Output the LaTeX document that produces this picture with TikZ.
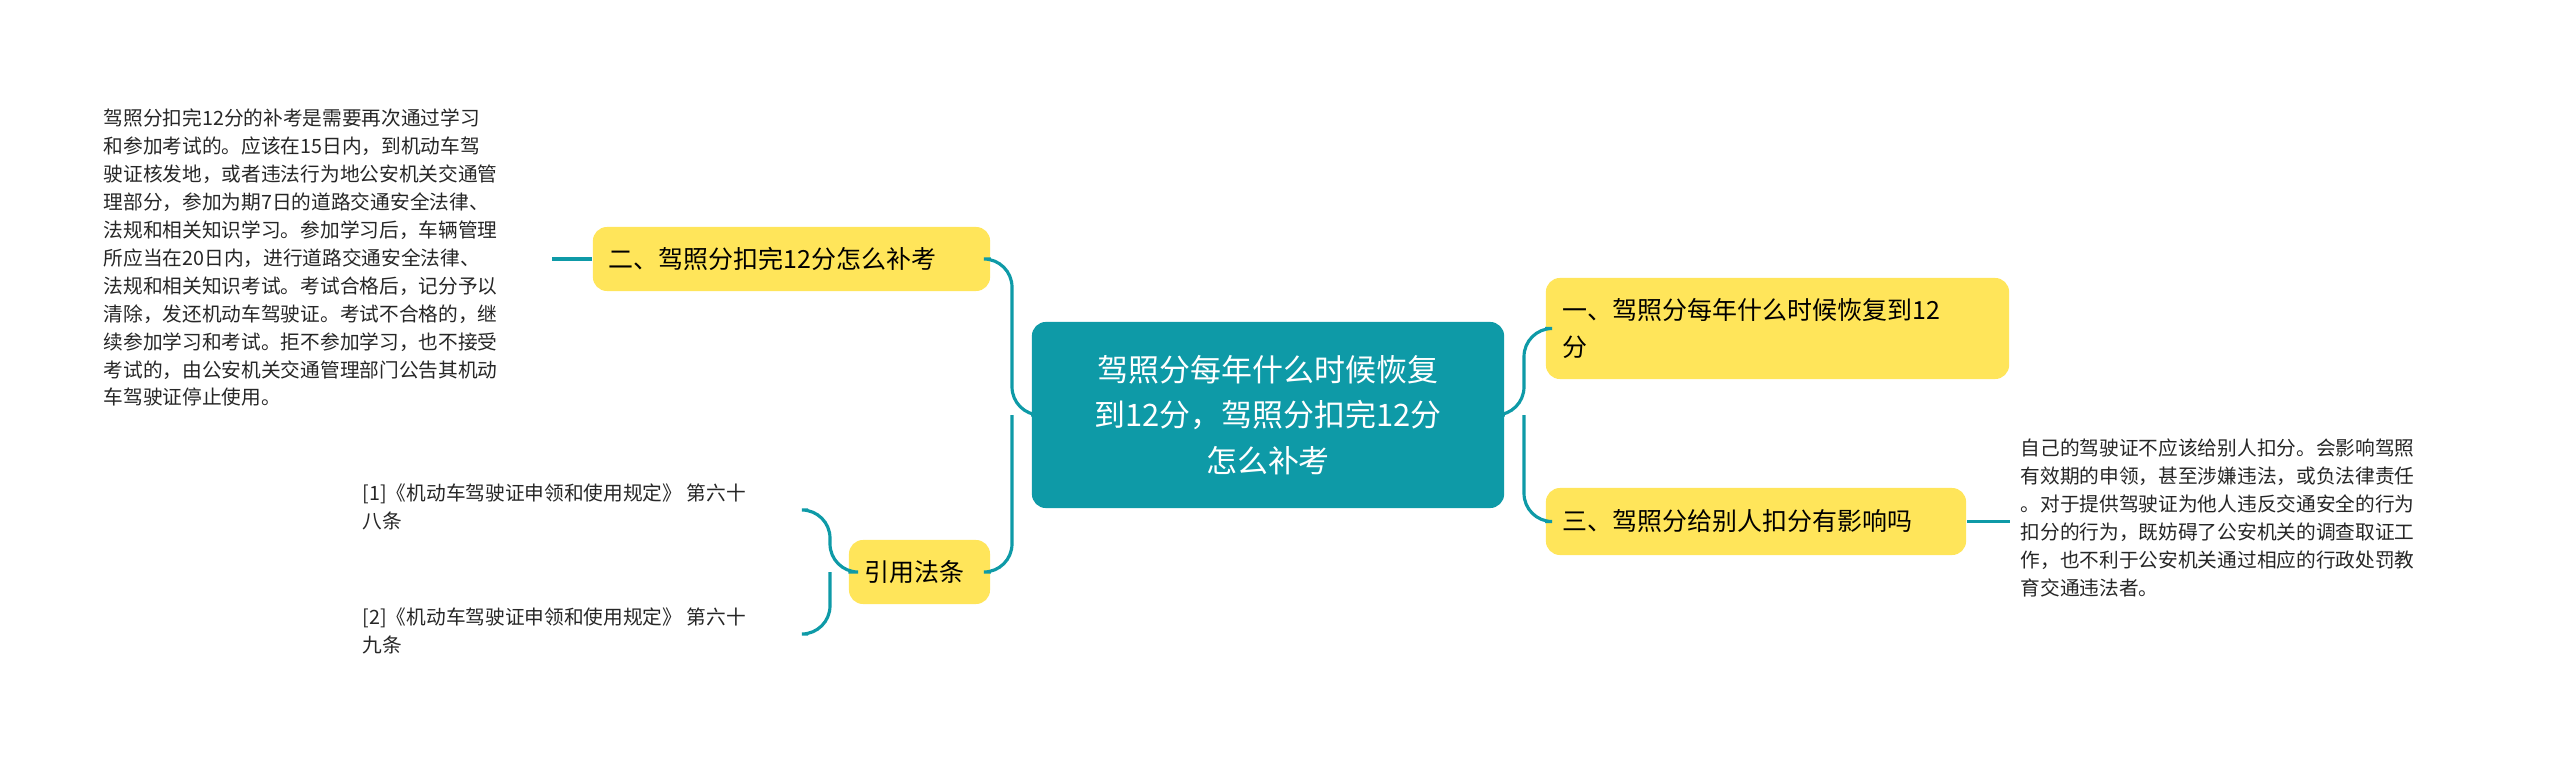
\documentclass[tikz,border=0pt]{standalone}
\usepackage{fontspec}
\setmainfont{Noto Sans CJK SC}
\definecolor{teal1}{HTML}{0E9AA7}
\definecolor{yel}{HTML}{FFE55A}
\begin{document}
\begin{tikzpicture}[x=0.01cm,y=-0.01cm,
  box/.style={fill=yel,rounded corners=4pt,inner sep=0pt},
  lab/.style={anchor=west,align=left,font=\fontsize{7.1}{10.5}\selectfont,inner sep=0pt},
  small/.style={anchor=north west,align=left,font=\fontsize{5.6}{7.95}\selectfont,inner sep=0pt,text=black!85},
  link/.style={draw=teal1,line width=0.9pt,rounded corners=8pt}]
\useasboundingbox (0,0) rectangle (2560,767);
% center
\node[fill=teal1,rounded corners=4pt,minimum width=4.72cm,minimum height=1.86cm,text=white,align=center,font=\fontsize{8.8}{13}\selectfont] (c) at (1268,415) {驾照分每年什么时候恢复\\到12分，驾照分扣完12分\\怎么补考};
% right nodes
\node[box,minimum width=4.63cm,minimum height=1.01cm] (n1) at (1777.5,328.5) {};
\node[lab] at (1562,328.5) {一、驾照分每年什么时候恢复到12\\分};
\node[box,minimum width=4.2cm,minimum height=0.67cm] (n3) at (1756,521.5) {};
\node[lab] at (1562,521.5) {三、驾照分给别人扣分有影响吗};
\node[small] (t3) at (2020,438) {自己的驾驶证不应该给别人扣分。会影响驾照\\有效期的申领，甚至涉嫌违法，或负法律责任\\。对于提供驾驶证为他人违反交通安全的行为\\扣分的行为，既妨碍了公安机关的调查取证工\\作，也不利于公安机关通过相应的行政处罚教\\育交通违法者。};
% left nodes
\node[box,minimum width=3.97cm,minimum height=0.64cm] (n2) at (791.5,259) {};
\node[lab] at (608,259) {二、驾照分扣完12分怎么补考};
\node[small] (t2) at (103,108) {驾照分扣完12分的补考是需要再次通过学习\\和参加考试的。应该在15日内，到机动车驾\\驶证核发地，或者违法行为地公安机关交通管\\理部分，参加为期7日的道路交通安全法律、\\法规和相关知识学习。参加学习后，车辆管理\\所应当在20日内，进行道路交通安全法律、\\法规和相关知识考试。考试合格后，记分予以\\清除，发还机动车驾驶证。考试不合格的，继\\续参加学习和考试。拒不参加学习，也不接受\\考试的，由公安机关交通管理部门公告其机动\\车驾驶证停止使用。};
\node[box,minimum width=1.41cm,minimum height=0.64cm] (n4) at (919.5,572) {};
\node[lab] at (864,572) {引用法条};
\node[small] (r1) at (362,483) {[1]《机动车驾驶证申领和使用规定》 第六十\\八条};
\node[small] (r2) at (362,607) {[2]《机动车驾驶证申领和使用规定》 第六十\\九条};
% connectors
\coordinate (rj) at (1524,415);
\coordinate (lj) at (1012,415);
\draw[link] (c.east) -- (rj) |- (n1.west);
\draw[link] (rj) |- (n3.west);
\draw[link] (c.west) -- (lj) |- (n2.east);
\draw[link] (lj) |- (n4.east);
\draw[link] (n3.east) -- (2010,521.5);
\draw[link] (n2.west) -- (552,259);
\coordinate (bj) at (830,572);
\draw[link] (n4.west) -- (bj) |- (808,510);
\draw[link] (bj) |- (808,634);
\end{tikzpicture}
\end{document}
